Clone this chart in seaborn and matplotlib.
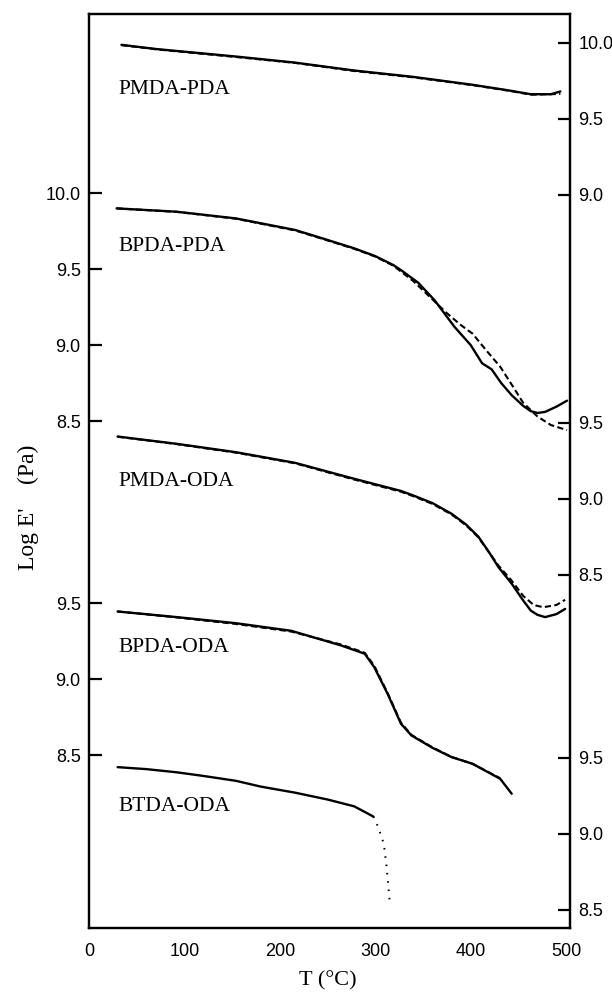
import matplotlib
matplotlib.use("Agg")
import matplotlib.pyplot as plt
import numpy as np
import pandas as pd
import seaborn as sns

# ---------------- data ----------------
samples = ["PMDA-PDA", "BPDA-PDA", "PMDA-ODA", "BPDA-ODA", "BTDA-ODA"]

# PMDA-PDA (right axis, top)
T_pmda_pda = [34, 71, 154, 216, 278, 340, 402, 440, 463, 484, 494]
E_pmda_pda = [9.985, 9.957, 9.908, 9.868, 9.816, 9.774, 9.722, 9.685, 9.66, 9.66, 9.678]
T_pmda_pda_d = [34, 71, 154, 216, 278, 340, 402, 440, 463, 494]
E_pmda_pda_d = [9.983, 9.955, 9.905, 9.866, 9.813, 9.771, 9.72, 9.683, 9.657, 9.662]

# BPDA-PDA (left axis, top)
T_bpda_pda = [29, 92, 154, 216, 243, 278, 300, 319, 327, 345, 362, 383, 400, 412, 422, 432, 443, 455, 463, 470, 478, 490, 501]
E_bpda_pda = [9.899, 9.877, 9.833, 9.757, 9.705, 9.636, 9.585, 9.526, 9.493, 9.41, 9.296, 9.12, 9.0, 8.88, 8.84, 8.75, 8.67, 8.6, 8.565, 8.553, 8.56, 8.595, 8.634]
T_bpda_pda_d = [29, 92, 154, 216, 243, 278, 300, 319, 340, 360, 375, 390, 402, 417, 431, 445, 455, 470, 484, 501]
E_bpda_pda_d = [9.899, 9.876, 9.831, 9.754, 9.702, 9.633, 9.582, 9.522, 9.42, 9.3, 9.21, 9.13, 9.075, 8.96, 8.857, 8.72, 8.62, 8.53, 8.474, 8.44]

# PMDA-ODA (right axis, middle)
T_pmda_oda = [30, 92, 154, 216, 275, 327, 340, 360, 380, 395, 408, 420, 429, 443, 455, 463, 470, 478, 490, 499]
E_pmda_oda = [9.408, 9.36, 9.305, 9.235, 9.135, 9.05, 9.02, 8.97, 8.9, 8.83, 8.75, 8.64, 8.55, 8.44, 8.33, 8.263, 8.235, 8.22, 8.24, 8.274]
T_pmda_oda_d = [30, 92, 154, 216, 275, 327, 340, 360, 380, 395, 408, 420, 429, 443, 455, 466, 476, 490, 499]
E_pmda_oda_d = [9.407, 9.358, 9.302, 9.232, 9.13, 9.045, 9.015, 8.965, 8.895, 8.825, 8.745, 8.64, 8.56, 8.46, 8.36, 8.3, 8.285, 8.3, 8.334]

# BPDA-ODA (left axis, lower)
T_bpda_oda = [30, 92, 154, 212, 264, 289, 299, 313, 327, 338, 360, 380, 402, 431, 443]
E_bpda_oda = [9.447, 9.41, 9.37, 9.32, 9.224, 9.169, 9.08, 8.905, 8.708, 8.631, 8.55, 8.489, 8.445, 8.346, 8.248]
T_bpda_oda_d = [30, 92, 154, 212, 264, 289, 299, 313, 327, 338, 360, 380, 402, 431]
E_bpda_oda_d = [9.447, 9.408, 9.365, 9.315, 9.23, 9.175, 9.09, 8.91, 8.715, 8.635, 8.553, 8.49, 8.445, 8.35]

# BTDA-ODA (right axis, bottom)
T_btda_oda = [30, 60, 92, 120, 154, 180, 216, 250, 278, 290, 298]
E_btda_oda = [9.438, 9.425, 9.404, 9.38, 9.348, 9.31, 9.27, 9.225, 9.18, 9.14, 9.113]
T_btda_oda_dot = [298, 303, 309, 312, 315]
E_btda_oda_dot = [9.113, 9.045, 8.934, 8.777, 8.565]

# vertical shift of each curve onto the common frame
offsets = {"PMDA-PDA": 0.99, "BPDA-PDA": 0.0, "PMDA-ODA": -1.01,
           "BPDA-ODA": -2.20, "BTDA-ODA": -3.215}

left_ticks = {"BPDA-PDA": [10.0, 9.5, 9.0, 8.5], "BPDA-ODA": [9.5, 9.0, 8.5]}
right_ticks = {"PMDA-PDA": [10.0, 9.5, 9.0], "PMDA-ODA": [9.5, 9.0, 8.5],
               "BTDA-ODA": [9.5, 9.0, 8.5]}
x_ticks = [0, 100, 200, 300, 400, 500]
label_y = {"PMDA-PDA": 9.688, "BPDA-PDA": 9.645, "PMDA-ODA": 9.109,
           "BPDA-ODA": 9.207, "BTDA-ODA": 9.176}

# ---------------- build a long table ----------------
pieces = [
    ("PMDA-PDA", "solid", T_pmda_pda, E_pmda_pda),
    ("PMDA-PDA", "dashed", T_pmda_pda_d, E_pmda_pda_d),
    ("BPDA-PDA", "solid", T_bpda_pda, E_bpda_pda),
    ("BPDA-PDA", "dashed", T_bpda_pda_d, E_bpda_pda_d),
    ("PMDA-ODA", "solid", T_pmda_oda, E_pmda_oda),
    ("PMDA-ODA", "dashed", T_pmda_oda_d, E_pmda_oda_d),
    ("BPDA-ODA", "solid", T_bpda_oda, E_bpda_oda),
    ("BPDA-ODA", "dashed", T_bpda_oda_d, E_bpda_oda_d),
    ("BTDA-ODA", "solid", T_btda_oda, E_btda_oda),
    ("BTDA-ODA", "dotted", T_btda_oda_dot, E_btda_oda_dot),
]
frames = []
for s, st, T, E in pieces:
    frames.append(pd.DataFrame({"T": T, "logE": E, "sample": s, "style": st}))
df = pd.concat(frames, ignore_index=True)
df["y"] = df["logE"] + df["sample"].map(offsets)

# ---------------- plot ----------------
sns.set_style("white")
plt.rcParams["font.family"] = ["Liberation Serif", "DejaVu Serif"]
plt.rcParams["text.color"] = "black"
plt.rcParams["axes.labelcolor"] = "black"

fig = plt.figure(figsize=(6.12, 9.94), dpi=100)
ax = fig.add_axes([0.1454, 0.0669, 0.7858, 0.9195])

dash_map = {"solid": (None, 1.7), "dashed": ((3.0, 1.6), 1.5), "dotted": ((0.8, 3.5), 1.4)}
for (s, st), g in df.groupby(["sample", "style"], sort=False):
    dashes, lw = dash_map[st]
    sns.lineplot(data=g, x="T", y="y", ax=ax, sort=False, estimator=None,
                 color="black", lw=lw)
    if dashes is not None:
        ax.lines[-1].set_dashes(dashes)

for s in samples:
    ax.text(31, label_y[s] + offsets[s], s, ha="left", va="center", color="black",
            fontsize=15.5, family=["Liberation Serif", "DejaVu Serif"])

ax.set_xlim(0, 504)
ax.set_ylim(5.168, 11.181)

tick_font = {"family": ["Liberation Sans", "DejaVu Sans"], "size": 13}

lpos, llab = [], []
for s, vals in left_ticks.items():
    for v in vals:
        lpos.append(v + offsets[s]); llab.append(f"{v:.1f}")
ax.set_yticks(lpos)
ax.set_yticklabels(llab, fontdict=tick_font)

ax.set_xticks(x_ticks)
ax.set_xticklabels([str(t) for t in x_ticks], fontdict=tick_font)

ax2 = ax.twinx()
ax2.set_ylim(ax.get_ylim())
rpos, rlab = [], []
for s, vals in right_ticks.items():
    for v in vals:
        rpos.append(v + offsets[s]); rlab.append(f"{v:.1f}")
ax2.set_yticks(rpos)
ax2.set_yticklabels(rlab, fontdict=tick_font)

for a in (ax, ax2):
    for sp in a.spines.values():
        sp.set_linewidth(1.6)
        sp.set_color("black")
ax.tick_params(axis="both", direction="in", length=9, width=1.6, colors="black")
ax.tick_params(axis="y", pad=6)
ax.tick_params(axis="x", pad=11)
ax2.tick_params(axis="y", direction="in", length=9, width=1.6, pad=6, colors="black")

ax.set_xlabel("T (°C)", fontsize=16, color="black")
ax.xaxis.set_label_coords(0.497, -0.048)
ax.set_ylabel("Log E'    (Pa)", fontsize=17, color="black")
ax.yaxis.set_label_coords(-0.104, 0.46)
ax2.set_ylabel("")

fig.savefig("out.png", dpi=100)
